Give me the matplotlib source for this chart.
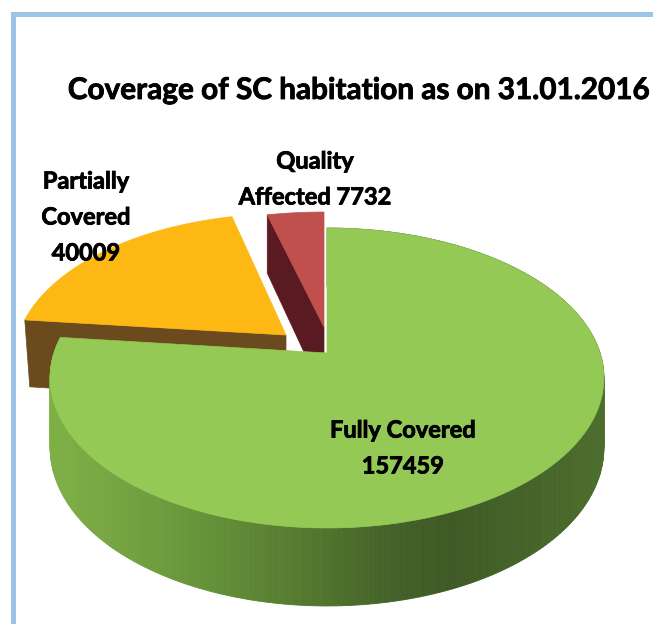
import matplotlib
matplotlib.use("Agg")
import matplotlib.pyplot as plt
import matplotlib.patheffects as pe
import numpy as np
from matplotlib.patches import Polygon, Rectangle

plt.rcParams['font.family'] = ['Lato', 'DejaVu Sans']

names = ['Fully Covered', 'Partially Covered', 'Quality Affected']
values = [157459, 40009, 7732]
top_colors = ['#93C954', '#FDB813', '#C0504D']
wall_colors = ['#5F8A35', '#6B4A1E', '#5A1A22']
title = 'Coverage of SC habitation as on 31.01.2016'
label_text = ['Fully Covered\n157459', 'Partially\nCovered\n40009', 'Quality\nAffected 7732']
label_x = [403, 86, 315]
label_y = [448, 217, 179]

# exploded position of each slice: shift x, shift y, stretch x, stretch y
shift_x = [0, -41, -3]
shift_y = [0, -18, -26]
stretch_x = [1.0, 0.98, 1.03]
stretch_y = [1.0, 0.97, 0.92]

# side shading of the big slice, left to right
shade_x = [50, 130, 200, 300, 400, 450, 604]
shade_r = [0x7F, 0x73, 0x66, 0x55, 0x42, 0x3F, 0x4C]
shade_g = [0xB0, 0xA2, 0x93, 0x7A, 0x60, 0x5A, 0x6E]
shade_b = [0x46, 0x40, 0x3A, 0x30, 0x28, 0x26, 0x2D]

cx, cy = 327, 353
R, S, k = 273, 145.8, 1 / 6


def project(a, i, r=1.0):
    # a is clockwise from 12 o'clock
    u = r * np.sin(a)
    v = r * np.cos(a)
    w = 1 + k * v
    x = cx + shift_x[i] + stretch_x[i] * R * u / w
    y = cy + shift_y[i] - stretch_y[i] * S * v / w
    return x, y, v


def depth(v):
    return 68 - 10 * v


fig = plt.figure(figsize=(6.53, 6.24), dpi=100)
ax = fig.add_axes([0, 0, 1, 1])
ax.set_xlim(0, 653)
ax.set_ylim(624, 0)
ax.axis('off')

ax.add_patch(Rectangle((11, 12), 5, 612, color='#9DC3E6', lw=0))
ax.add_patch(Rectangle((11, 12), 642, 5, color='#9DC3E6', lw=0))

fracs = np.array(values) / sum(values)
ends = np.cumsum(fracs) * 2 * np.pi
starts = ends - fracs * 2 * np.pi

# back slices first, big one over them
for i in [1, 2, 0]:
    a = np.linspace(starts[i], ends[i], 300)
    x, y, v = project(a, i)
    ax_, ay_, _ = project(0.0, i, 0.0)

    if i == 0:
        for j in range(len(a) - 1):
            mx = (x[j] + x[j + 1]) / 2
            c = (np.interp(mx, shade_x, shade_r) / 255,
                 np.interp(mx, shade_x, shade_g) / 255,
                 np.interp(mx, shade_x, shade_b) / 255)
            quad = [(x[j], y[j]), (x[j + 1], y[j + 1]),
                    (x[j + 1], y[j + 1] + depth(v[j + 1])), (x[j], y[j] + depth(v[j]))]
            ax.add_patch(Polygon(quad, closed=True, fc=c, ec=c, lw=0.6))
    else:
        # only the cut face on the start side shows
        fx, fy, fv = x[0], y[0], v[0]
        face = [(fx, fy), (ax_, ay_), (ax_, ay_ + depth(0)), (fx + (5 if i == 1 else 0), fy + depth(fv))]
        ax.add_patch(Polygon(face, closed=True, fc=wall_colors[i], ec=wall_colors[i], lw=0.5))

    pts = [(ax_, ay_)] + list(zip(x, y))
    ax.add_patch(Polygon(pts, closed=True, fc=top_colors[i], ec=top_colors[i], lw=0.5))

thick = [pe.withStroke(linewidth=0.6, foreground='black')]
ax.text(359, 90, title, ha='center', va='center', fontsize=21.4, fontweight='bold',
        color='black', path_effects=thick)
for t, lx, ly in zip(label_text, label_x, label_y):
    ax.text(lx, ly, t, ha='center', va='center', fontsize=17, fontweight='bold',
            color='black', linespacing=1.68, path_effects=thick)

fig.savefig('out.png', dpi=100)
